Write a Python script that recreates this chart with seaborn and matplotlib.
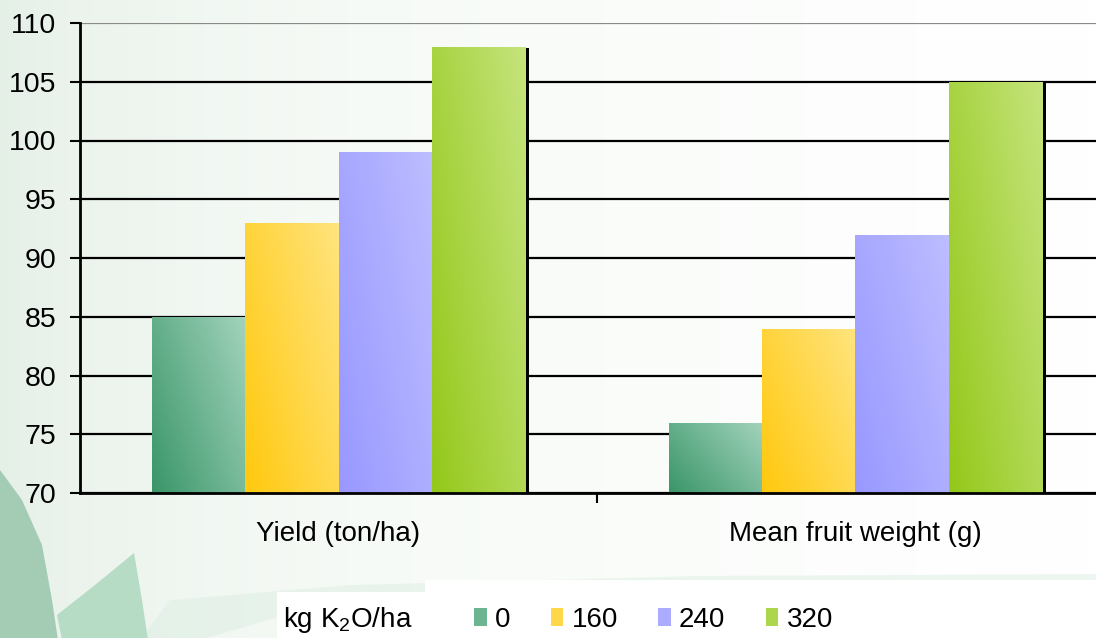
import numpy as np
import pandas as pd
import matplotlib
matplotlib.use('Agg')
import matplotlib.pyplot as plt
import matplotlib.transforms as mtransforms
from matplotlib.colors import LinearSegmentedColormap
from matplotlib.patches import Patch, Polygon, Rectangle
import seaborn as sns

# data
measures = ['Yield (ton/ha)', 'Mean fruit weight (g)']
doses = ['0', '160', '240', '320']
yield_vals = [85, 93, 99, 108]
fruit_vals = [76, 84, 92, 105]
y_ticks = [70, 75, 80, 85, 90, 95, 100, 105, 110]

# dark -> light gradient per dose
dose_colors = {
    '0': ('#3a9669', '#a2d3bc'),
    '160': ('#ffc90e', '#ffe47e'),
    '240': ('#9898ff', '#bdbdff'),
    '320': ('#94c81a', '#c5e47c'),
}

df = pd.DataFrame({
    'measure': np.repeat(measures, len(doses)),
    'dose': doses * len(measures),
    'value': yield_vals + fruit_vals,
})

sns.set_style('ticks')
plt.rcParams['font.family'] = ['Liberation Sans', 'DejaVu Sans']
plt.rcParams['mathtext.fontset'] = 'custom'
plt.rcParams['mathtext.rm'] = 'Liberation Sans'
plt.rcParams['mathtext.default'] = 'regular'
plt.rcParams['text.color'] = 'black'
plt.rcParams['xtick.color'] = 'black'
plt.rcParams['ytick.color'] = 'black'
plt.rcParams['xtick.labelcolor'] = 'black'
plt.rcParams['ytick.labelcolor'] = 'black'

W, H = 1096, 638
fig = plt.figure(figsize=(W / 100, H / 100), dpi=100)

# background: pale green wash with leaf shapes bottom-left
bg = fig.add_axes([0, 0, 1, 1], zorder=-5)
bg.set_xlim(0, W)
bg.set_ylim(H, 0)
bg.axis('off')
grad = np.linspace(0, 1, 256)[None, :] ** 0.6
bg_cmap = LinearSegmentedColormap.from_list('bg', ['#e4efe6', '#f6faf6', '#ffffff'])
bg.imshow(grad, extent=(0, W, H, 0), aspect='auto', cmap=bg_cmap, zorder=0)
bg.add_patch(Polygon([(0, 640), (140, 640), (170, 600), (350, 585), (700, 576),
                      (1096, 574), (1096, 595), (700, 592), (320, 605), (200, 640)],
                     closed=True, facecolor='#dcefe2', alpha=0.5, lw=0, zorder=1))
bg.add_patch(Polygon([(0, 470), (22, 500), (42, 545), (52, 600), (58, 640), (0, 640)],
                     closed=True, facecolor='#a4ccb4', lw=0, zorder=2))
bg.add_patch(Polygon([(57, 615), (95, 585), (134, 553), (142, 600), (148, 640), (62, 640)],
                     closed=True, facecolor='#b6dcc6', lw=0, zorder=2))
# white legend panel
bg.add_patch(Polygon([(277, 640), (277, 592), (425, 592), (425, 580), (1100, 580), (1100, 640)],
                     closed=True, facecolor='white', lw=0, zorder=3))

# main axes: extends past the right edge like the reference
ax = fig.add_axes([80 / W, 145 / H, 1034 / W, 470 / H])
ax.patch.set_alpha(0)

sns.barplot(data=df, x='measure', y='value', hue='dose', order=measures,
            hue_order=doses, width=0.723, saturation=1, legend=False,
            palette=[dose_colors[d][0] for d in doses], ax=ax)

ax.set_xlim(-0.5, 1.5)
ax.set_ylim(70, 110)
ax.set_yticks(y_ticks)
ax.set_xticks([0, 1])
ax.set_xticklabels(measures)
ax.set_xticks([0.5], minor=True)
ax.set_xlabel('')
ax.set_ylabel('')
ax.tick_params(axis='y', labelsize=20.5, length=7, width=1.5, pad=10, color='black')
ax.tick_params(axis='x', which='major', labelsize=20, length=0, pad=20)
ax.tick_params(axis='x', which='minor', length=7, width=1.5, color='black')
for s in ['top', 'right']:
    ax.spines[s].set_visible(False)
for s in ['left', 'bottom']:
    ax.spines[s].set_color('black')
    ax.spines[s].set_linewidth(2)
    ax.spines[s].set_zorder(5)

ax.yaxis.grid(True, color='black', lw=1.6, zorder=0.5)
ax.set_axisbelow(True)
ax.get_ygridlines()[-1].set_color('#8a8a8a')

# gradient fills and drop shadow on each bar
fig.canvas.draw()
shadow_tr = mtransforms.offset_copy(ax.transData, fig=fig, x=4, y=-1, units='dots')
for cont, d in zip(ax.containers, doses):
    cmap = LinearSegmentedColormap.from_list(d, dose_colors[d])
    for bar in cont:
        x0, w = bar.get_x(), bar.get_width()
        top = bar.get_y() + bar.get_height()
        y0 = max(bar.get_y(), 70)
        ax.add_patch(Rectangle((x0, y0), w, top - y0, transform=shadow_tr,
                               facecolor='black', lw=0, zorder=1.5))
        u = np.linspace(0, 1, 64)[None, :]
        v = np.linspace(0, 1, 64)[:, None]
        t = 0.6 * u + 0.4 * v
        img = ax.imshow(t, extent=(x0, x0 + w, y0, top), origin='lower',
                        cmap=cmap, vmin=0, vmax=1, aspect='auto', zorder=2)
        img.set_clip_path(bar)
        bar.set_facecolor('none')
        bar.set_edgecolor('none')
        bar.set_zorder(2)
ax.set_xlim(-0.5, 1.5)
ax.set_ylim(70, 110)

# legend
fig.text(283 / W, 1 - 620 / H, 'kg K$_2$O/ha', fontsize=20, va='center', ha='left')
handles = [Patch(facecolor=c, edgecolor='none')
           for c in ['#6db592', '#ffd84a', '#abacff', '#acd64b']]
fig.legend(handles, doses, loc='center left', bbox_to_anchor=(474 / W, 1 - 620 / H),
           ncol=4, frameon=False, fontsize=20, handlelength=0.45, handleheight=0.6,
           handletextpad=0.3, columnspacing=1.45, borderpad=0, borderaxespad=0,
           labelcolor='black')

fig.savefig('out.png', dpi=100)
